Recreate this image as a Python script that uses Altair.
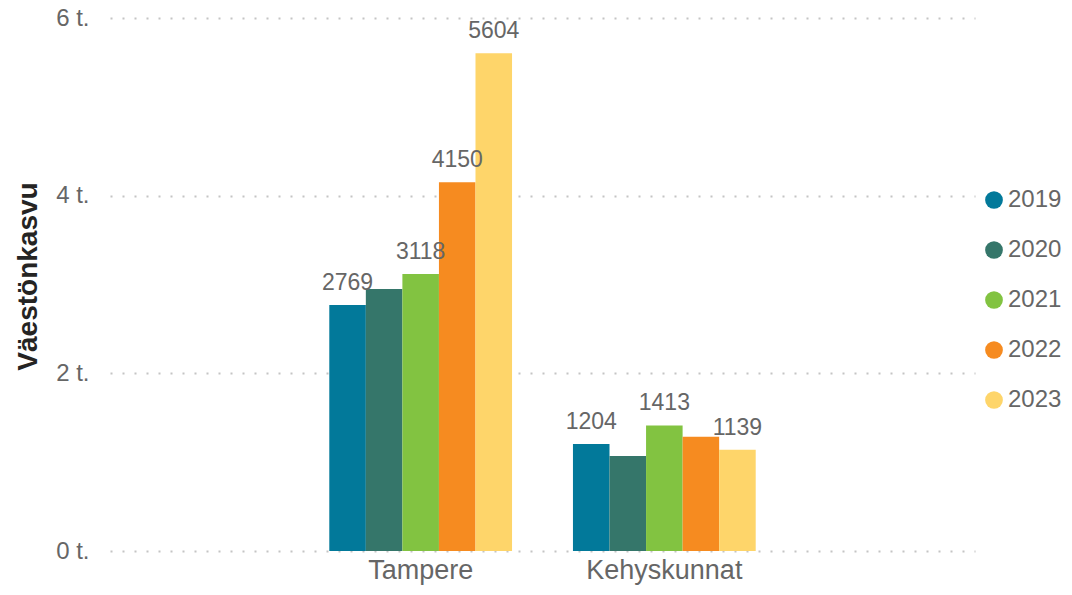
import altair as alt
import pandas as pd

regions = ["Tampere", "Kehyskunnat"]
years = ["2019", "2020", "2021", "2022", "2023"]
tampere = [2769, 2950, 3118, 4150, 5604]
kehyskunnat = [1204, 1070, 1413, 1285, 1139]
tampere_labels = ["2769", "", "3118", "4150", "5604"]
kehyskunnat_labels = ["1204", "", "1413", "", "1139"]
colors = ["#02799A", "#35766A", "#82C341", "#F68B20", "#FED56A"]

rows = []
for r, vals, labs in [("Tampere", tampere, tampere_labels), ("Kehyskunnat", kehyskunnat, kehyskunnat_labels)]:
    for y, v, l in zip(years, vals, labs):
        rows.append({"alue": r, "vuosi": y, "arvo": v, "label": l})
df = pd.DataFrame(rows)

FONT = "Liberation Sans"
GREY = "#666666"

x = alt.X("alue:N", sort=regions, title=None,
          scale=alt.Scale(paddingInner=0.25, paddingOuter=0.9),
          axis=alt.Axis(labelAngle=0, labelFontSize=27, labelColor=GREY, labelFont=FONT,
                        ticks=False, domain=False, grid=False, labelPadding=6))
xoff = alt.XOffset("vuosi:N", sort=years, scale=alt.Scale(paddingInner=0, paddingOuter=0))
y = alt.Y("arvo:Q", title="Väestönkasvu",
          scale=alt.Scale(domain=[0, 6000], nice=False),
          axis=alt.Axis(values=[0, 2000, 4000, 6000], labelExpr="datum.value/1000 + ' t.'",
                        labelFontSize=24, labelColor=GREY, labelFont=FONT, labelPadding=21,
                        ticks=False, domain=False, grid=True, gridColor="#C4C4C4",
                        gridDash=[2, 10], gridWidth=2,
                        titleFontSize=28, titleFont=FONT, titleFontWeight=600, titleColor="#252423",
                        titleX=-82, titleY=258, titleAngle=-90, titleAlign="center",
                        titleBaseline="middle"))

bars = alt.Chart(df).mark_bar().encode(
    x=x, xOffset=xoff, y=y,
    color=alt.Color("vuosi:N", sort=years, title=None,
                    scale=alt.Scale(domain=years, range=colors),
                    legend=alt.Legend(orient="none", legendX=872, legendY=170,
                                      symbolType="circle", symbolSize=314, symbolStrokeWidth=0,
                                      labelFontSize=24, labelColor=GREY, labelFont=FONT,
                                      labelOffset=2, rowPadding=26, padding=0))
)

text = alt.Chart(df).mark_text(baseline="middle", dy=-22, fontSize=23, color=GREY, font=FONT).encode(
    x=alt.X("alue:N", sort=regions), xOffset=alt.XOffset("vuosi:N", sort=years), y="arvo:Q",
    text="label:N"
)

chart = (bars + text).properties(
    width=865, height=533,
    autosize=alt.AutoSizeParams(type="none"),
    padding={"left": 102, "top": 10, "right": 89, "bottom": 36},
).configure(background="white").configure_view(stroke=None, strokeWidth=0)

chart.save("out.html", embed_options={"renderer": "svg", "actions": False})
